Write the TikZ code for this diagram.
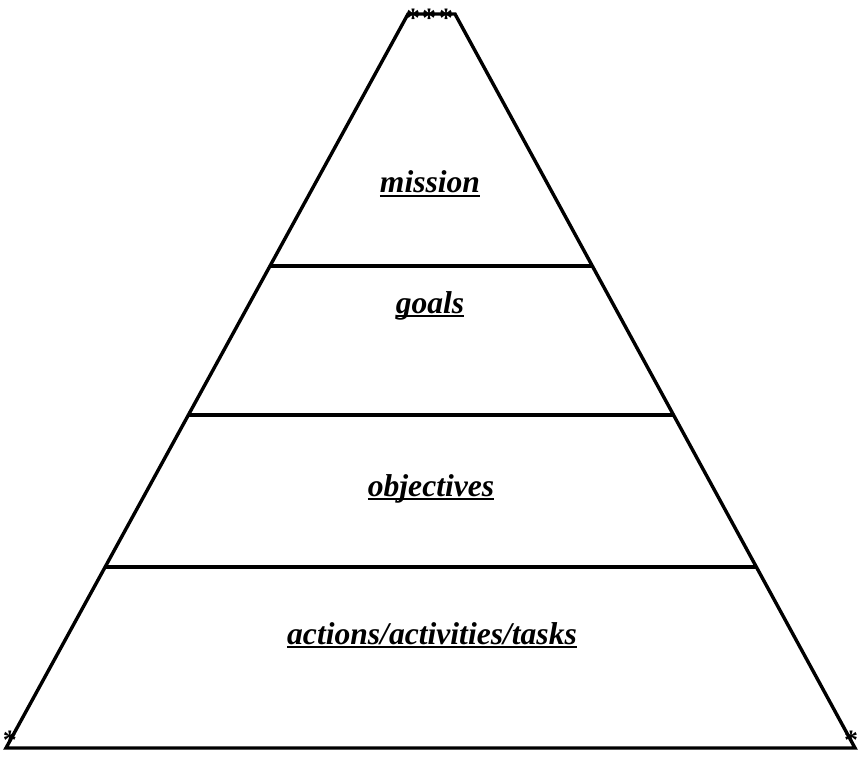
\documentclass[tikz,border=0pt]{standalone}
\usepackage{fontspec}
\setmainfont{Liberation Serif}
\usetikzlibrary{calc}

\tikzset{level/.style={font=\fontsize{15.8}{18}\selectfont\bfseries\itshape, anchor=base, inner sep=0pt},
         star/.style={font=\fontsize{14}{14}\selectfont\bfseries, inner sep=0pt, text depth=0pt}}
\newsavebox{\lvlbox}
\newcommand{\lvl}[1]{\sbox{\lvlbox}{#1}\rlap{\rule[-2.2pt]{\wd\lvlbox}{1.1pt}}\usebox{\lvlbox}}

\begin{document}
\begin{tikzpicture}[x=0.5pt,y=0.5pt,line width=1.7pt]
\useasboundingbox (0,0) rectangle (861,756);

% corners of the pyramid
\coordinate (tl) at (408,742);
\coordinate (tr) at (455,742);
\coordinate (bl) at (6,8);
\coordinate (br) at (855,8);

\draw (bl) -- (tl) -- (tr) -- (br) -- cycle;

% the three dividing lines
\draw ($(tl)!0.3433!(bl)$) -- ($(tr)!0.3433!(br)$);
\draw ($(tl)!0.5463!(bl)$) -- ($(tr)!0.5463!(br)$);
\draw ($(tl)!0.7534!(bl)$) -- ($(tr)!0.7534!(br)$);

\node [level] (mission) at (430,563) {\lvl{mission}};
\node [level] (goals) at (430,443) {\lvl{goals}};
\node [level] (objectives) at (431,260) {\lvl{objectives}};
\node [level] (tasks) at (432,112) {\lvl{actions/activities/tasks}};

% asterisks
\node [star] (s1) at (413,738) {*};
\node [star] (s2) at (429,738) {*};
\node [star] (s3) at (446,738) {*};
\node [star] (s4) at (10,16) {*};
\node [star] (s5) at (851,16) {*};

\end{tikzpicture}
\end{document}
